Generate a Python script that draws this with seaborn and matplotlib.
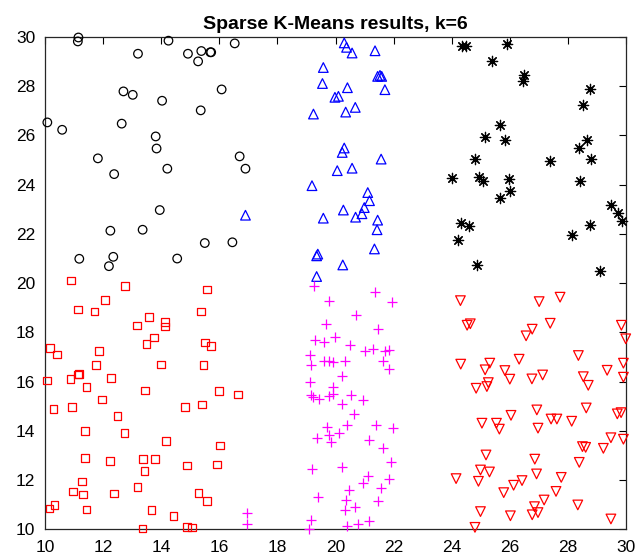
import matplotlib
matplotlib.use("Agg")
import matplotlib.pyplot as plt
import seaborn as sns
import pandas as pd

# ---- data ----
circle_x = [11.15, 11.13, 14.25, 16.53, 13.20, 14.92, 15.38, 15.69, 15.72, 15.27, 16.08, 12.70, 13.02, 14.03,
            15.36, 10.08, 10.59, 12.64, 13.81, 13.84, 11.82, 16.70, 12.38, 14.21, 16.90, 13.95, 12.25, 13.36,
            15.50, 16.45, 11.18, 12.35, 12.20, 14.55]
circle_y = [29.98, 29.82, 29.85, 29.74, 29.32, 29.32, 29.43, 29.38, 29.38, 29.01, 27.87, 27.79, 27.65, 27.41,
            27.02, 26.53, 26.23, 26.48, 25.96, 25.47, 25.07, 25.15, 24.43, 24.65, 24.65, 22.97, 22.13, 22.17,
            21.63, 21.66, 20.99, 21.07, 20.69, 21.00]

tri_x = [20.30, 20.38, 20.57, 21.36, 19.58, 19.55, 20.41, 21.45, 21.53, 21.59, 21.70, 19.98, 20.10, 20.68,
         20.35, 19.24, 20.30, 20.23, 21.57, 20.06, 20.57, 19.19, 21.11, 21.17, 20.99, 20.91, 20.69, 20.27,
         19.58, 21.45, 21.43, 21.34, 19.39, 19.35, 20.25, 19.35, 16.90]
tri_y = [29.76, 29.58, 29.35, 29.44, 28.76, 28.11, 27.94, 28.40, 28.44, 28.40, 27.86, 27.55, 27.59, 27.14,
         26.95, 26.87, 25.49, 25.31, 25.04, 24.57, 24.67, 23.96, 23.68, 23.35, 23.07, 22.82, 22.68, 22.97,
         22.64, 22.56, 22.17, 21.39, 21.18, 21.11, 20.74, 20.27, 22.76]

star_x = [24.37, 24.48, 25.91, 25.38, 26.50, 26.47, 28.76, 28.52, 25.65, 25.13, 25.85, 28.67, 28.38, 28.81,
          24.79, 27.37, 24.00, 24.93, 25.09, 25.97, 28.42, 26.01, 25.66, 29.48, 29.74, 29.85, 24.33, 24.58,
          24.22, 28.14, 28.76, 24.87, 29.12]
star_y = [29.65, 29.64, 29.71, 29.04, 28.47, 28.22, 27.90, 27.22, 26.41, 25.92, 25.80, 25.80, 25.49, 25.03,
          25.05, 24.97, 24.29, 24.32, 24.13, 24.23, 24.17, 23.75, 23.45, 23.18, 22.84, 22.51, 22.44, 22.32,
          21.76, 21.95, 22.37, 20.72, 20.51]

square_x = [10.90, 12.75, 15.58, 12.07, 11.14, 11.71, 15.37, 13.59, 13.16, 14.13, 14.13, 13.75, 13.49, 15.50,
            15.71, 10.17, 10.42, 11.86, 11.76, 13.99, 15.45, 10.06, 10.88, 11.14, 11.18, 12.28, 11.43, 13.44,
            15.98, 16.64, 11.97, 10.93, 10.29, 14.82, 15.41, 12.50, 11.37, 12.73, 14.17, 16.02, 11.37, 12.24,
            13.37, 13.79, 13.42, 14.88, 15.92, 11.27, 10.96, 11.30, 12.38, 13.19, 15.29, 15.57, 10.15, 10.33,
            11.43, 13.67, 14.42, 13.36, 14.88, 15.05]
square_y = [20.11, 19.89, 19.74, 19.32, 18.93, 18.85, 18.85, 18.63, 18.28, 18.41, 18.24, 17.79, 17.53, 17.59,
            17.44, 17.37, 17.10, 17.24, 16.67, 16.70, 16.67, 16.04, 16.10, 16.29, 16.31, 16.15, 15.77, 15.64,
            15.61, 15.47, 15.28, 14.98, 14.88, 14.97, 15.07, 14.61, 14.00, 13.91, 13.59, 13.40, 12.89, 12.78,
            12.86, 12.86, 12.37, 12.59, 12.63, 11.95, 11.53, 11.41, 11.46, 11.73, 11.48, 11.16, 10.84, 10.99,
            10.81, 10.79, 10.54, 10.03, 10.09, 10.07]

plus_x = [19.27, 21.37, 19.77, 21.96, 20.71, 19.68, 21.47, 19.31, 19.62, 19.98, 20.50, 21.02, 21.28, 21.70,
          21.85, 19.12, 19.14, 19.61, 19.77, 19.93, 20.33, 21.62, 21.85, 20.22, 19.12, 19.93, 19.16, 19.24,
          19.44, 19.77, 19.92, 20.52, 20.96, 20.22, 20.63, 19.72, 20.40, 21.39, 21.98, 20.12, 19.36, 19.79,
          19.86, 21.16, 21.64, 21.91, 19.20, 20.23, 21.12, 20.96, 21.85, 20.45, 21.57, 19.39, 20.36, 21.47,
          20.68, 20.32, 19.16, 19.10, 20.40, 20.77, 21.16, 16.94, 16.94]
plus_y = [19.89, 19.66, 19.28, 19.24, 18.70, 18.33, 18.14, 17.68, 17.59, 17.83, 17.49, 17.25, 17.32, 17.25,
          17.29, 17.09, 16.68, 16.84, 16.84, 16.81, 16.84, 16.85, 16.53, 16.23, 16.00, 15.77, 15.45, 15.36,
          15.30, 15.42, 15.51, 15.44, 15.26, 15.08, 14.67, 14.17, 14.23, 14.23, 14.13, 13.93, 13.72, 13.82,
          13.55, 13.63, 13.32, 12.74, 12.44, 12.53, 12.18, 11.90, 12.03, 11.60, 11.67, 11.30, 11.19, 11.15,
          10.91, 10.80, 10.38, 10.00, 10.15, 10.22, 10.35, 10.68, 10.22]

down_x = [24.30, 27.01, 27.73, 24.53, 24.64, 27.39, 26.77, 26.56, 29.84, 29.99, 24.31, 25.31, 25.15, 26.32,
          25.83, 26.00, 25.26, 25.21, 24.84, 26.76, 27.13, 28.36, 28.53, 28.70, 29.35, 29.91, 29.91, 26.93,
          26.04, 25.04, 25.54, 25.64, 26.97, 27.42, 27.62, 28.13, 28.63, 29.70, 29.83, 29.48, 29.91, 28.50,
          28.61, 29.22, 25.18, 26.86, 28.39, 24.99, 25.30, 24.15, 24.92, 26.92, 27.77, 26.42, 26.13, 25.79,
          27.59, 27.18, 28.34, 24.99, 26.02, 26.85, 26.77, 26.97, 24.80, 29.48]
down_y = [19.29, 19.25, 19.43, 18.29, 18.35, 18.37, 18.13, 17.86, 18.29, 17.74, 16.71, 16.75, 16.48, 16.91,
          16.45, 16.10, 15.96, 15.80, 15.73, 16.11, 16.27, 17.06, 16.20, 15.85, 16.46, 16.75, 16.18, 14.85,
          14.63, 14.31, 14.31, 14.07, 14.11, 14.48, 14.48, 14.39, 14.93, 14.69, 14.74, 13.72, 13.66, 13.36,
          13.33, 13.29, 13.02, 12.85, 12.72, 12.41, 12.33, 12.06, 11.95, 12.25, 12.11, 11.98, 11.79, 11.49,
          11.54, 11.19, 10.99, 10.72, 10.55, 10.92, 10.59, 10.68, 10.08, 10.42]

axis_ticks = [10, 12, 14, 16, 18, 20, 22, 24, 26, 28, 30]
title_text = "Sparse K-Means results, k=6"

# ---- styling ----
sns.set_style("white")
plt.rcParams["font.family"] = ["Liberation Sans", "DejaVu Sans"]

fig = plt.figure(figsize=(6.43, 5.58), dpi=100)
ax = fig.add_axes([0.070, 0.0514, 0.9036, 0.8823])

clusters = [
    (circle_x, circle_y, "o", "#000000", True, 38),
    (tri_x, tri_y, "^", "#0000FF", True, 48),
    (star_x, star_y, (8, 2, 0), "#000000", False, 55),
    (square_x, square_y, "s", "#FF0000", True, 30),
    (plus_x, plus_y, "+", "#FF00FF", False, 45),
    (down_x, down_y, "v", "#FF0000", True, 48),
]

for xs, ys, mk, col, hollow, s in clusters:
    df = pd.DataFrame({"x": xs, "y": ys})
    kw = dict(data=df, x="x", y="y", marker=mk, s=s, color=col, linewidth=0.9,
              ax=ax, legend=False, clip_on=False, zorder=3)
    if hollow:
        kw["facecolors"] = "none"
        kw["edgecolor"] = col
    sns.scatterplot(**kw)

ax.set_xlim(10, 30)
ax.set_ylim(10, 30)
ax.set_xticks(axis_ticks)
ax.set_yticks(axis_ticks)
ax.set_xlabel("")
ax.set_ylabel("")
ax.tick_params(direction="in", length=5, width=0.8, top=True, right=True,
               labelsize=12.5, colors="#000000")
ax.tick_params(axis="x", pad=8)
ax.tick_params(axis="y", pad=7)
for sp in ax.spines.values():
    sp.set_visible(True)
    sp.set_color("#262626")
    sp.set_linewidth(0.9)
ax.set_title(title_text, fontsize=14, fontweight="bold", pad=6, color="#000000")

fig.savefig("out.png", dpi=100)
